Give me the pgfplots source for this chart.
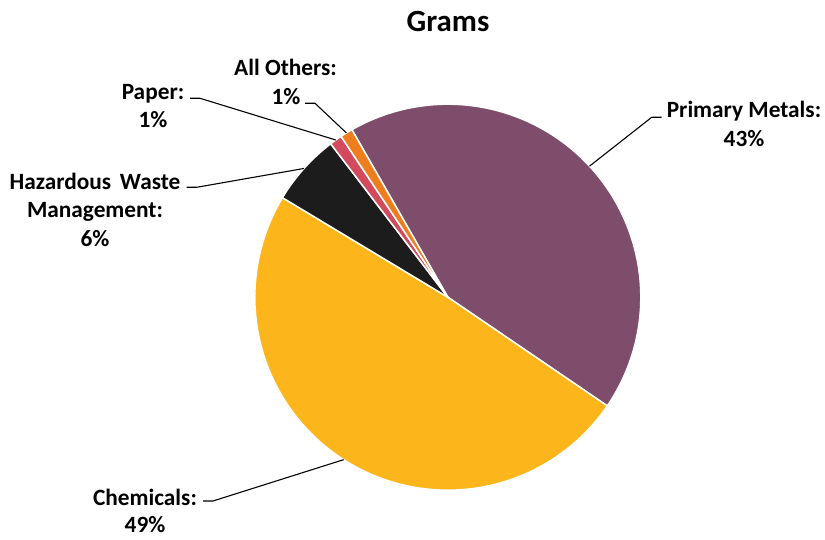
\documentclass[border=0pt]{standalone}
\usepackage{pgfplots}
\usepackage{pgfplotstable}
\pgfplotsset{compat=1.18}
\usepackage{fontspec}
\setmainfont{Carlito}
\definecolor{cMetal}{HTML}{7E4D6C}
\definecolor{cChem}{HTML}{FCB51B}
\definecolor{cHaz}{HTML}{1C1C1C}
\definecolor{cPaper}{HTML}{D24A5C}
\definecolor{cOther}{HTML}{EE7D1D}
\pgfplotstableread{
name value
PrimaryMetals 42.8
Chemicals 49.1
Hazardous 6.0
Paper 1.05
Others 1.05
}\pietable
\newcommand\lbl{\fontsize{23.4}{28}\selectfont\bfseries}
\begin{document}
\begin{tikzpicture}
\pgfplotstablegetelem{0}{value}\of\pietable \pgfmathsetmacro\vA{\pgfplotsretval}
\pgfplotstablegetelem{1}{value}\of\pietable \pgfmathsetmacro\vB{\pgfplotsretval}
\pgfplotstablegetelem{2}{value}\of\pietable \pgfmathsetmacro\vC{\pgfplotsretval}
\pgfplotstablegetelem{3}{value}\of\pietable \pgfmathsetmacro\vD{\pgfplotsretval}
\pgfplotstablegetelem{4}{value}\of\pietable \pgfmathsetmacro\vE{\pgfplotsretval}
\pgfmathsetmacro\cx{447.8}
\pgfmathsetmacro\cy{242.8}
\pgfmathsetmacro\R{193}
\pgfmathsetmacro\aS{119.8}
\pgfmathsetmacro\aA{\aS-3.6*\vA}
\pgfmathsetmacro\aB{\aA-3.6*\vB}
\pgfmathsetmacro\aC{\aB-3.6*\vC}
\pgfmathsetmacro\aD{\aC-3.6*\vD}
\pgfmathsetmacro\aE{\aD-3.6*\vE}
\pgfmathsetmacro\mA{(\aS+\aA)/2}
\pgfmathsetmacro\mB{(\aA+\aB)/2}
\pgfmathsetmacro\mC{(\aB+\aC)/2}
\pgfmathsetmacro\mD{(\aC+\aD)/2}
\pgfmathsetmacro\mE{(\aD+\aE)/2}
\begin{axis}[width=825bp,height=540bp,scale only axis,xmin=0,xmax=825,ymin=0,ymax=540,hide axis,clip=false]
\addplot[fill=cMetal, draw=white, line width=1.5pt, domain=\aA:\aS, samples=120, variable=\t] ({\cx+\R*cos(\t)},{\cy+\R*sin(\t)}) -- (axis cs:\cx,\cy) -- cycle;
\addplot[fill=cChem, draw=white, line width=1.5pt, domain=\aB:\aA, samples=120, variable=\t] ({\cx+\R*cos(\t)},{\cy+\R*sin(\t)}) -- (axis cs:\cx,\cy) -- cycle;
\addplot[fill=cHaz, draw=white, line width=1.5pt, domain=\aC:\aB, samples=40, variable=\t] ({\cx+\R*cos(\t)},{\cy+\R*sin(\t)}) -- (axis cs:\cx,\cy) -- cycle;
\addplot[fill=cPaper, draw=white, line width=1.5pt, domain=\aD:\aC, samples=10, variable=\t] ({\cx+\R*cos(\t)},{\cy+\R*sin(\t)}) -- (axis cs:\cx,\cy) -- cycle;
\addplot[fill=cOther, draw=white, line width=1.5pt, domain=\aE:\aD, samples=10, variable=\t] ({\cx+\R*cos(\t)},{\cy+\R*sin(\t)}) -- (axis cs:\cx,\cy) -- cycle;
% leader lines
\draw[black, line width=1.1pt] (axis cs:{\cx+\R*cos(\mA)},{\cy+\R*sin(\mA)}) -- (axis cs:651.7,422.7) -- (axis cs:661.7,422.7);
\draw[black, line width=1.1pt] (axis cs:{\cx+\R*cos(\mB)},{\cy+\R*sin(\mB)}) -- (axis cs:213,39) -- (axis cs:203,39);
\draw[black, line width=1.1pt] (axis cs:{\cx+\R*cos(\mC)},{\cy+\R*sin(\mC)}) -- (axis cs:196.7,352.7) -- (axis cs:186.7,352.7);
\draw[black, line width=1.1pt] (axis cs:{\cx+\R*cos(\mD)},{\cy+\R*sin(\mD)}) -- (axis cs:200,441.7) -- (axis cs:190,441.7);
\draw[black, line width=1.1pt] (axis cs:{\cx+\R*cos(\mE)},{\cy+\R*sin(\mE)}) -- (axis cs:315,436.7) -- (axis cs:305,436.7);
% labels
\node[anchor=base, inner sep=0pt] at (axis cs:448,508) {\fontsize{31}{36}\selectfont\bfseries Grams};
\node[anchor=base, inner sep=0pt] at (axis cs:744,422) {\lbl Primary Metals:};
\node[anchor=base, inner sep=0pt] at (axis cs:744,393.5) {\lbl 43\%};
\node[anchor=base, inner sep=0pt] at (axis cs:145,34) {\lbl Chemicals:};
\node[anchor=base, inner sep=0pt] at (axis cs:145,7) {\lbl 49\%};
\node[anchor=base, inner sep=0pt] at (axis cs:95,350.5) {\lbl Hazardous\hspace{0.15em} Waste};
\node[anchor=base, inner sep=0pt] at (axis cs:95,322) {\lbl Management:};
\node[anchor=base, inner sep=0pt] at (axis cs:95,293.5) {\lbl 6\%};
\node[anchor=base, inner sep=0pt] at (axis cs:153,440.7) {\lbl Paper:};
\node[anchor=base, inner sep=0pt] at (axis cs:153,412.5) {\lbl 1\%};
\node[anchor=base, inner sep=0pt] at (axis cs:285.5,464) {\lbl All Others:};
\node[anchor=base, inner sep=0pt] at (axis cs:286,435.5) {\lbl 1\%};
\end{axis}
\pgfresetboundingbox
\useasboundingbox (current axis.south west) rectangle (current axis.north east);
\end{tikzpicture}
\end{document}
